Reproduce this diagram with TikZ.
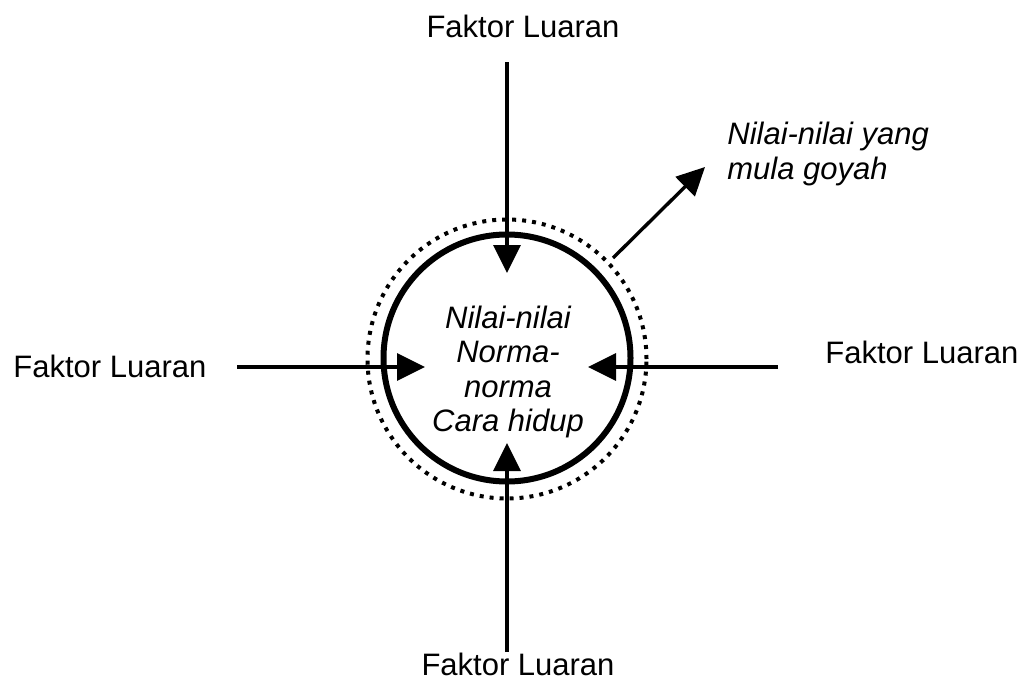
\documentclass[tikz,border=0pt]{standalone}
\usepackage{fontspec}
\setmainfont{Liberation Sans}
\usetikzlibrary{arrows.meta}

\begin{document}
\begin{tikzpicture}[x=0.5pt,y=-0.5pt,
  lbl/.style={font=\fontsize{15.5}{17.25}\selectfont,inner sep=0pt},
  ital/.style={font=\fontsize{15.5}{17.25}\selectfont\itshape,inner sep=0pt},
  arr/.style={line width=1.7pt,-{Triangle[length=14pt,width=13.5pt]}}]
\useasboundingbox (0,0) rectangle (1023,680);

% the two rings
\node[circle,draw,line width=2pt,dash pattern=on 2pt off 3pt,minimum size=139.5pt,inner sep=0pt] (ring) at (507,359) {};
\node[circle,draw,line width=3pt,minimum size=123.5pt,inner sep=0pt] (core) at (507,358) {};
\node[ital,align=center] (vals) at (508,372) {Nilai-nilai\\Norma-\\norma\\Cara hidup};

% outside labels
\node[lbl,anchor=base] (ftop) at (523,37) {Faktor Luaran};
\node[lbl,anchor=base] (fbot) at (518,675) {Faktor Luaran};
\node[lbl,anchor=base west] (fleft) at (13,377) {Faktor Luaran};
\node[lbl,anchor=base west] (fright) at (825,363) {Faktor Luaran};
\node[ital,anchor=north west,align=left] (goyah) at (727,122) {Nilai-nilai yang\\mula goyah};

% arrow ends
\coordinate (intop) at (507,62);
\coordinate (tiptop) at (507,273);
\coordinate (inbot) at (507,652);
\coordinate (tipbot) at (507,443);
\coordinate (inleft) at (237,367);
\coordinate (tipleft) at (425,367);
\coordinate (inright) at (778,367);
\coordinate (tipright) at (588,367);
\coordinate (outfrom) at (613,258);
\coordinate (outto) at (705,167);

\draw[arr] (intop) -- (tiptop);
\draw[arr] (inbot) -- (tipbot);
\draw[arr] (inleft) -- (tipleft);
\draw[arr] (inright) -- (tipright);
\draw[arr] (outfrom) -- (outto);

\end{tikzpicture}
\end{document}
